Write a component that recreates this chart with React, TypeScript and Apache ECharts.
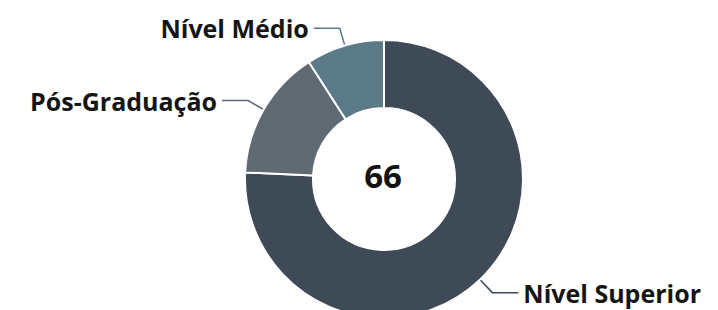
import React, { useEffect, useRef } from "react";
import * as echarts from "echarts";

const categories = ["Nível Superior", "Pós-Graduação", "Nível Médio"];
const values = [50, 10, 6];
const colors = ["#3e4a56", "#5f6a73", "#5b7a88"];
const totalLabel = "66";

export default function App() {
  const ref = useRef<HTMLDivElement>(null);
  useEffect(() => {
    document.body.style.margin = "0";
    const chart = echarts.init(ref.current!, null, { renderer: "svg" });
    chart.setOption({
      animation: false,
      graphic: [
        {
          type: "text",
          x: 383,
          y: 175,
          style: {
            text: totalLabel,
            fontSize: 33,
            fontWeight: "bold",
            fontFamily: "Open Sans",
            fill: "#111",
            align: "center",
            verticalAlign: "middle",
          },
        },
      ],
      series: [
        {
          type: "pie",
          center: [384, 179],
          radius: [71, 139],
          startAngle: 90,
          clockwise: true,
          itemStyle: { borderColor: "#fff", borderWidth: 2 },
          label: {
            show: true,
            formatter: "{b}",
            fontFamily: "Open Sans",
            fontWeight: "bold",
            fontSize: 25,
            lineHeight: 24,
            color: "#151515",
            overflow: "none",
          },
          labelLine: { show: true, length: 18, length2: 26, lineStyle: { width: 1.5 } },
          data: categories.map((c, i) => ({
            name: c,
            value: values[i],
            itemStyle: { color: colors[i] },
          })),
        },
      ],
    });
    return () => chart.dispose();
  }, []);
  return <div ref={ref} style={{ width: 718, height: 310 }} />;
}
